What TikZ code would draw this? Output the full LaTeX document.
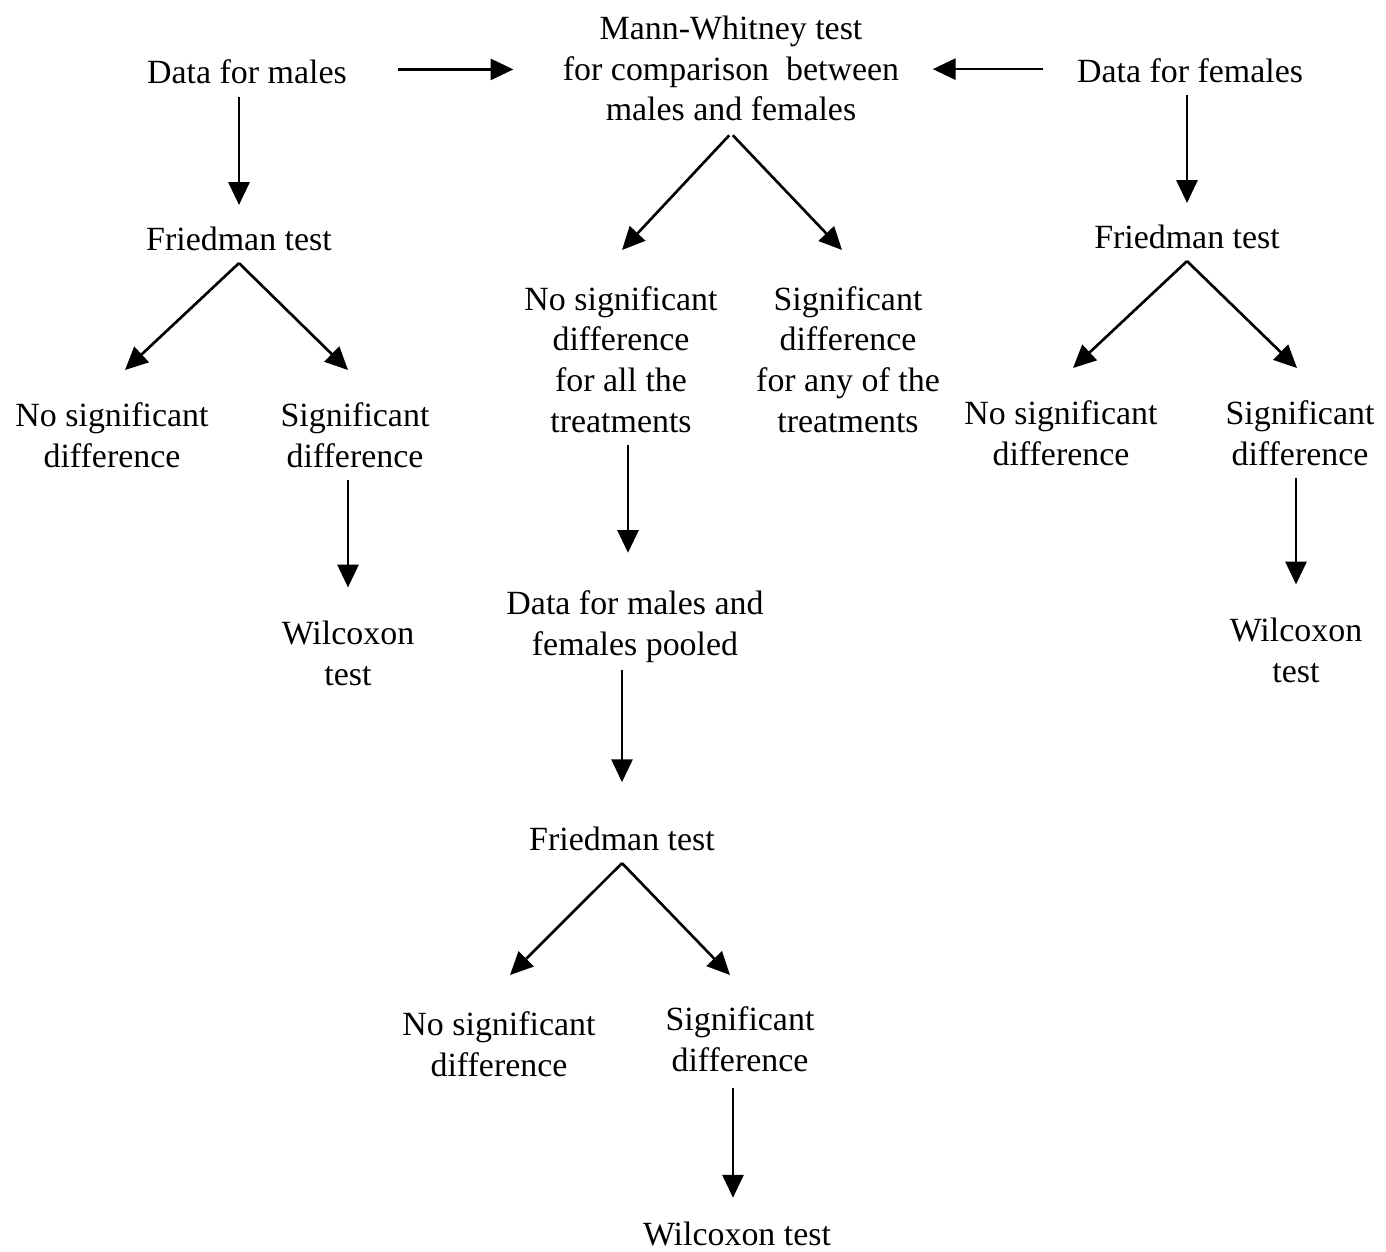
\documentclass[tikz,border=0pt]{standalone}
\usepackage{fontspec}
\setmainfont{Liberation Serif}
\usetikzlibrary{arrows.meta}
\tikzset{
  lbl/.style={align=center, inner sep=0pt, yshift=-2.5pt,
    execute at begin node=\strut, execute at end node=\strut,
    font=\fontsize{19.3}{23.2}\selectfont},
  arr/.style={-{Triangle[length=13pt,width=12pt]}, line width=1.5pt}
}
\begin{document}
\begin{tikzpicture}[x=0.02cm, y=-0.02cm]
  \useasboundingbox (0,0) rectangle (1386,1251);
  % top row
  \node[lbl] (dm) at (247,71) {Data for males};
  \node[lbl] (mw) at (731,70) {Mann-Whitney test\\for comparison\ \ between\\males and females};
  \node[lbl] (df) at (1190,70) {Data for females};
  % males
  \node[lbl] (fl) at (239,238) {Friedman test};
  \node[lbl] (nl) at (112,437) {No significant\\difference};
  \node[lbl] (sl) at (355,437) {Significant\\difference};
  \node[lbl] (wl) at (348,655) {Wilcoxon\\test};
  % pooled branch
  \node[lbl] (nm) at (621,361) {No significant\\difference\\for all the\\treatments};
  \node[lbl] (sm) at (848,361) {Significant\\difference\\for any of the\\treatments};
  \node[lbl] (pl) at (635,625) {Data for males and\\females pooled};
  \node[lbl] (fb) at (622,838) {Friedman test};
  \node[lbl] (nb) at (499,1046) {No significant\\difference};
  \node[lbl] (sb) at (740,1041) {Significant\\difference};
  \node[lbl] (wb) at (737,1233) {Wilcoxon test};
  % females
  \node[lbl] (fr) at (1187,236) {Friedman test};
  \node[lbl] (nr) at (1061,435) {No significant\\difference};
  \node[lbl] (sr) at (1300,435) {Significant\\difference};
  \node[lbl] (wr) at (1296,652) {Wilcoxon\\test};
  % tips of the slanted arrows
  \coordinate (fl-n) at (125,370);
  \coordinate (fl-s) at (348,370);
  \coordinate (mw-n) at (622,250);
  \coordinate (mw-s) at (842,250);
  \coordinate (fb-n) at (510,975);
  \coordinate (fb-s) at (730,975);
  \coordinate (fr-n) at (1073,368);
  \coordinate (fr-s) at (1297,368);
  % arrows
  \draw[arr, shorten <=29pt, shorten >=28pt] ([yshift=3.4pt]dm.east) -- ([yshift=3.4pt]mw.west |- dm.east);
  \draw[arr, shorten <=19pt, shorten >=19pt] ([yshift=3pt]df.west) -- ([yshift=3pt]mw.east |- df.west);
  \draw[arr, shorten <=0.7pt, shorten >=9.5pt] (fl.north |- dm.south) -- (fl.north);
  \draw[arr, shorten >=9.5pt] (fr.north |- df.south) -- (fr.north);
  \draw[arr] (fl.south) -- (fl-n);
  \draw[arr] (fl.south) -- (fl-s);
  \draw[arr, shorten <=1.5pt] (mw.south) -- (mw-n);
  \draw[arr, shorten <=1.5pt] (mw.south) -- (mw-s);
  \draw[arr] (fb.south) -- (fb-n);
  \draw[arr] (fb.south) -- (fb-s);
  \draw[arr] (fr.south) -- (fr-n);
  \draw[arr] (fr.south) -- (fr-s);
  \draw[arr, shorten >=19pt] (sl.south -| wl.north) -- (wl.north);
  \draw[arr, shorten >=21.5pt] (nm.south -| 628,0) -- (pl.north -| 628,0);
  \draw[arr, shorten <=1.1pt, shorten >=22.5pt] (pl.south -| fb.north) -- (fb.north);
  \draw[arr, shorten <=2.2pt, shorten >=10.8pt] (sb.south -| 733,0) -- (wb.north -| 733,0);
  \draw[arr, shorten >=19pt] (sr.south -| wr.north) -- (wr.north);
\end{tikzpicture}
\end{document}
